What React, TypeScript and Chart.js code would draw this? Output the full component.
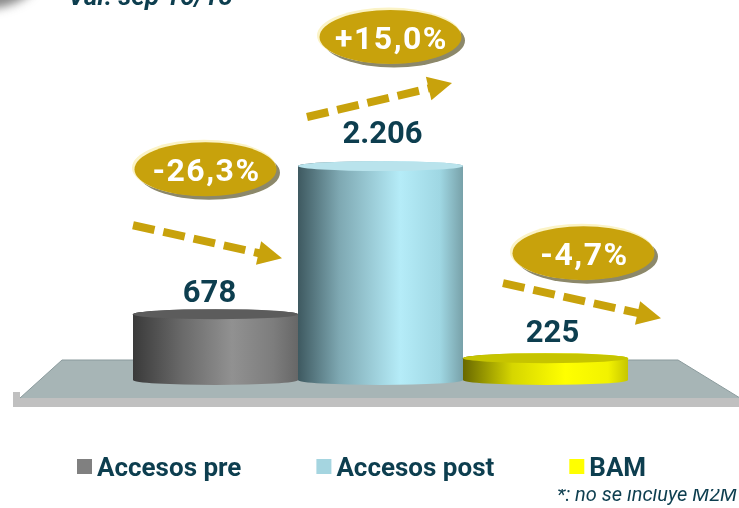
import React, { useEffect, useRef } from "react";
import { Chart, registerables } from "chart.js";

Chart.register(...registerables);

// ---- data ----
const categories = ["Accesos pre", "Accesos post", "BAM"];
const values = [678, 2206, 225];
const changes = [-26.3, 15.0, -4.7];
const titleText = "Var. sep 16/15";
const footnoteText = "*: no se incluye M2M";
const yMax = 2500;

// ---- style ----
const TEXT = "#0d3e4f";
const GOLD = "#c8a20c";
const FONT = "Roboto, 'Open Sans', sans-serif";
const legendColors = ["#808080", "#a5d5e0", "#ffff00"];
const bodyStops: [number, string][][] = [
  [[0, "#3a3a3a"], [0.3, "#6a6a6a"], [0.6, "#919191"], [0.85, "#7d7d7d"], [1, "#676767"]],
  [[0, "#3e5960"], [0.25, "#7ea8b2"], [0.62, "#b5ecf8"], [0.86, "#9fd7e3"], [1, "#78a1a9"]],
  [[0, "#686800"], [0.3, "#d6d600"], [0.62, "#ffff00"], [0.88, "#f2f200"], [1, "#c6c600"]],
];
const topColors = ["#5c5c5c", "#b9e3ec", "#c6c400"];
// annotation layout relative to each bar (dx from centre / edges, dy from bar top)
const badgeOffsets = [[-10, -145], [10, -129], [38, -105]];
const arrowOffsets = [
  [0, -89, -16, -56],
  [9, -49, -11, -83],
  [40, -75, 33, -40],
];
const labelOffsets = [[-6, -12], [2, -23], [7, -16]];

const fmtValue = (v: number) => String(v).replace(/\B(?=(\d{3})+(?!\d))/g, ".");
const fmtChange = (c: number) => (c > 0 ? "+" : "") + c.toFixed(1).replace(".", ",") + "%";

function drawCylinder(ctx: CanvasRenderingContext2D, left: number, right: number, top: number, base: number, ry: number, stops: [number, string][], topColor: string) {
  const cx = (left + right) / 2;
  const rx = (right - left) / 2;
  const g = ctx.createLinearGradient(left, 0, right, 0);
  stops.forEach(([o, c]) => g.addColorStop(o, c));
  ctx.beginPath();
  ctx.moveTo(left, top);
  ctx.lineTo(left, base);
  ctx.ellipse(cx, base, rx, ry, 0, Math.PI, 0, true);
  ctx.lineTo(right, top);
  ctx.ellipse(cx, top, rx, ry, 0, 0, Math.PI, true);
  ctx.closePath();
  ctx.fillStyle = g;
  ctx.fill();
  ctx.beginPath();
  ctx.ellipse(cx, top, rx, ry, 0, 0, Math.PI * 2);
  ctx.fillStyle = topColor;
  ctx.fill();
}

function drawBadge(ctx: CanvasRenderingContext2D, cx: number, cy: number, text: string) {
  const rx = 71, ry = 27;
  ctx.save();
  ctx.fillStyle = "#8c886a";
  ctx.beginPath();
  ctx.ellipse(cx + 3.5, cy + 3.5, rx, ry, 0, 0, Math.PI * 2);
  ctx.fill();
  ctx.fillStyle = "#fbf3c6";
  ctx.beginPath();
  ctx.ellipse(cx - 1.5, cy - 1.5, rx + 1, ry + 1, 0, 0, Math.PI * 2);
  ctx.fill();
  ctx.fillStyle = GOLD;
  ctx.beginPath();
  ctx.ellipse(cx, cy, rx, ry, 0, 0, Math.PI * 2);
  ctx.fill();
  ctx.fillStyle = "#ffffff";
  ctx.font = `bold 32px ${FONT}`;
  (ctx as any).letterSpacing = "1.5px";
  ctx.textAlign = "center";
  ctx.textBaseline = "alphabetic";
  ctx.fillText(text, cx + 1, cy + 11.5);
  ctx.restore();
}

function drawArrow(ctx: CanvasRenderingContext2D, x1: number, y1: number, x2: number, y2: number) {
  const a = Math.atan2(y2 - y1, x2 - x1);
  const headLen = 24, headW = 12;
  const bx = x2 - headLen * Math.cos(a);
  const by = y2 - headLen * Math.sin(a);
  ctx.save();
  ctx.strokeStyle = GOLD;
  ctx.fillStyle = GOLD;
  ctx.lineWidth = 8;
  ctx.lineCap = "butt";
  ctx.setLineDash([22, 9]);
  ctx.beginPath();
  ctx.moveTo(x1, y1);
  ctx.lineTo(bx + 2 * Math.cos(a), by + 2 * Math.sin(a));
  ctx.stroke();
  ctx.setLineDash([]);
  ctx.beginPath();
  ctx.moveTo(x2, y2);
  ctx.lineTo(bx + headW * Math.sin(a), by - headW * Math.cos(a));
  ctx.lineTo(bx - headW * Math.sin(a), by + headW * Math.cos(a));
  ctx.closePath();
  ctx.fill();
  ctx.restore();
}

const cylinderPlugin = {
  id: "cylinders",
  beforeDatasetsDraw(chart: any) {
    const ctx: CanvasRenderingContext2D = chart.ctx;
    const { left, right, bottom } = chart.chartArea;
    const W = chart.width;
    ctx.save();
    // floor bottom strip
    ctx.fillStyle = "#c0c0c0";
    ctx.fillRect(left - 120, bottom + 18, W - (left - 120), 9);
    ctx.fillRect(left - 120, bottom + 12, 7, 15);
    // floor top
    ctx.beginPath();
    ctx.moveTo(left - 71, bottom - 20);
    ctx.lineTo(right + 50, bottom - 20);
    ctx.lineTo(right + 112, bottom + 18);
    ctx.lineTo(left - 113, bottom + 18);
    ctx.closePath();
    ctx.fillStyle = "#a7b5b6";
    ctx.fill();
    ctx.beginPath();
    ctx.moveTo(left - 113, bottom + 18);
    ctx.lineTo(left - 71, bottom - 20);
    ctx.lineTo(right + 50, bottom - 20);
    ctx.lineTo(right + 112, bottom + 18);
    ctx.strokeStyle = "#8a9a9c";
    ctx.lineWidth = 1;
    ctx.stroke();
    ctx.restore();
  },
  afterDatasetsDraw(chart: any) {
    const ctx: CanvasRenderingContext2D = chart.ctx;
    const bars = chart.getDatasetMeta(0).data;
    ctx.save();
    bars.forEach((b: any, i: number) => {
      const l = b.x - b.width / 2;
      const r = b.x + b.width / 2;
      drawCylinder(ctx, l, r, b.y, b.base, 5, bodyStops[i], topColors[i]);
    });
    // value labels
    ctx.fillStyle = TEXT;
    ctx.font = `bold 31px ${FONT}`;
    ctx.textAlign = "center";
    ctx.textBaseline = "alphabetic";
    bars.forEach((b: any, i: number) => {
      ctx.fillText(fmtValue(values[i]), b.x + labelOffsets[i][0], b.y + labelOffsets[i][1]);
    });
    // arrows and badges
    bars.forEach((b: any, i: number) => {
      const l = b.x - b.width / 2;
      const r = b.x + b.width / 2;
      const o = arrowOffsets[i];
      drawArrow(ctx, l + o[0], b.y + o[1], r + o[2], b.y + o[3]);
    });
    bars.forEach((b: any, i: number) => {
      drawBadge(ctx, b.x + badgeOffsets[i][0], b.y + badgeOffsets[i][1], fmtChange(changes[i]));
    });
    ctx.restore();
  },
  afterDraw(chart: any) {
    const ctx: CanvasRenderingContext2D = chart.ctx;
    ctx.save();
    // top-left clipped badge
    ctx.shadowColor = "rgba(60,60,60,0.6)";
    ctx.shadowBlur = 10;
    ctx.shadowOffsetX = 6;
    ctx.shadowOffsetY = 6;
    ctx.fillStyle = GOLD;
    ctx.beginPath();
    ctx.ellipse(-30, -28, 62, 32, 0, 0, Math.PI * 2);
    ctx.fill();
    ctx.restore();
    ctx.save();
    // title (clipped at top)
    ctx.fillStyle = TEXT;
    ctx.font = `italic bold 26px ${FONT}`;
    ctx.textAlign = "left";
    ctx.textBaseline = "alphabetic";
    ctx.fillText(titleText, 68, 5);
    // legend
    ctx.font = `bold 26px ${FONT}`;
    let x = 77;
    const baseY = 476;
    categories.forEach((c, i) => {
      ctx.fillStyle = legendColors[i];
      ctx.fillRect(x, baseY - 17, 15, 15);
      ctx.fillStyle = TEXT;
      ctx.fillText(c, x + 20, baseY);
      x += 20 + ctx.measureText(c).width + 75;
    });
    // footnote (upper part hidden)
    ctx.beginPath();
    ctx.rect(0, 489, chart.width, chart.height - 489);
    ctx.clip();
    ctx.font = `italic 20px ${FONT}`;
    ctx.textAlign = "right";
    ctx.fillText(footnoteText, 737, 501);
    ctx.restore();
  },
};

export default function App() {
  const ref = useRef<HTMLCanvasElement | null>(null);
  useEffect(() => {
    document.body.style.margin = "0";
    const chart = new Chart(ref.current as HTMLCanvasElement, {
      type: "bar",
      data: {
        labels: categories,
        datasets: [
          {
            label: "Accesos",
            data: values,
            backgroundColor: "rgba(0,0,0,0)",
            borderWidth: 0,
            barPercentage: 1,
            categoryPercentage: 1,
          },
        ],
      },
      options: {
        responsive: false,
        animation: false,
        devicePixelRatio: 1,
        layout: { padding: { left: 133, right: 111, top: 137.5, bottom: 128 } },
        scales: {
          x: { display: false },
          y: { display: false, min: 0, max: yMax },
        },
        plugins: { legend: { display: false }, tooltip: { enabled: false } },
      },
      plugins: [cylinderPlugin],
    });
    return () => chart.destroy();
  }, []);
  return (
    <div style={{ position: "absolute", left: 0, top: 0, width: 739, height: 508, background: "#ffffff" }}>
      <canvas ref={ref} width={739} height={508} style={{ display: "block" }} />
    </div>
  );
}
